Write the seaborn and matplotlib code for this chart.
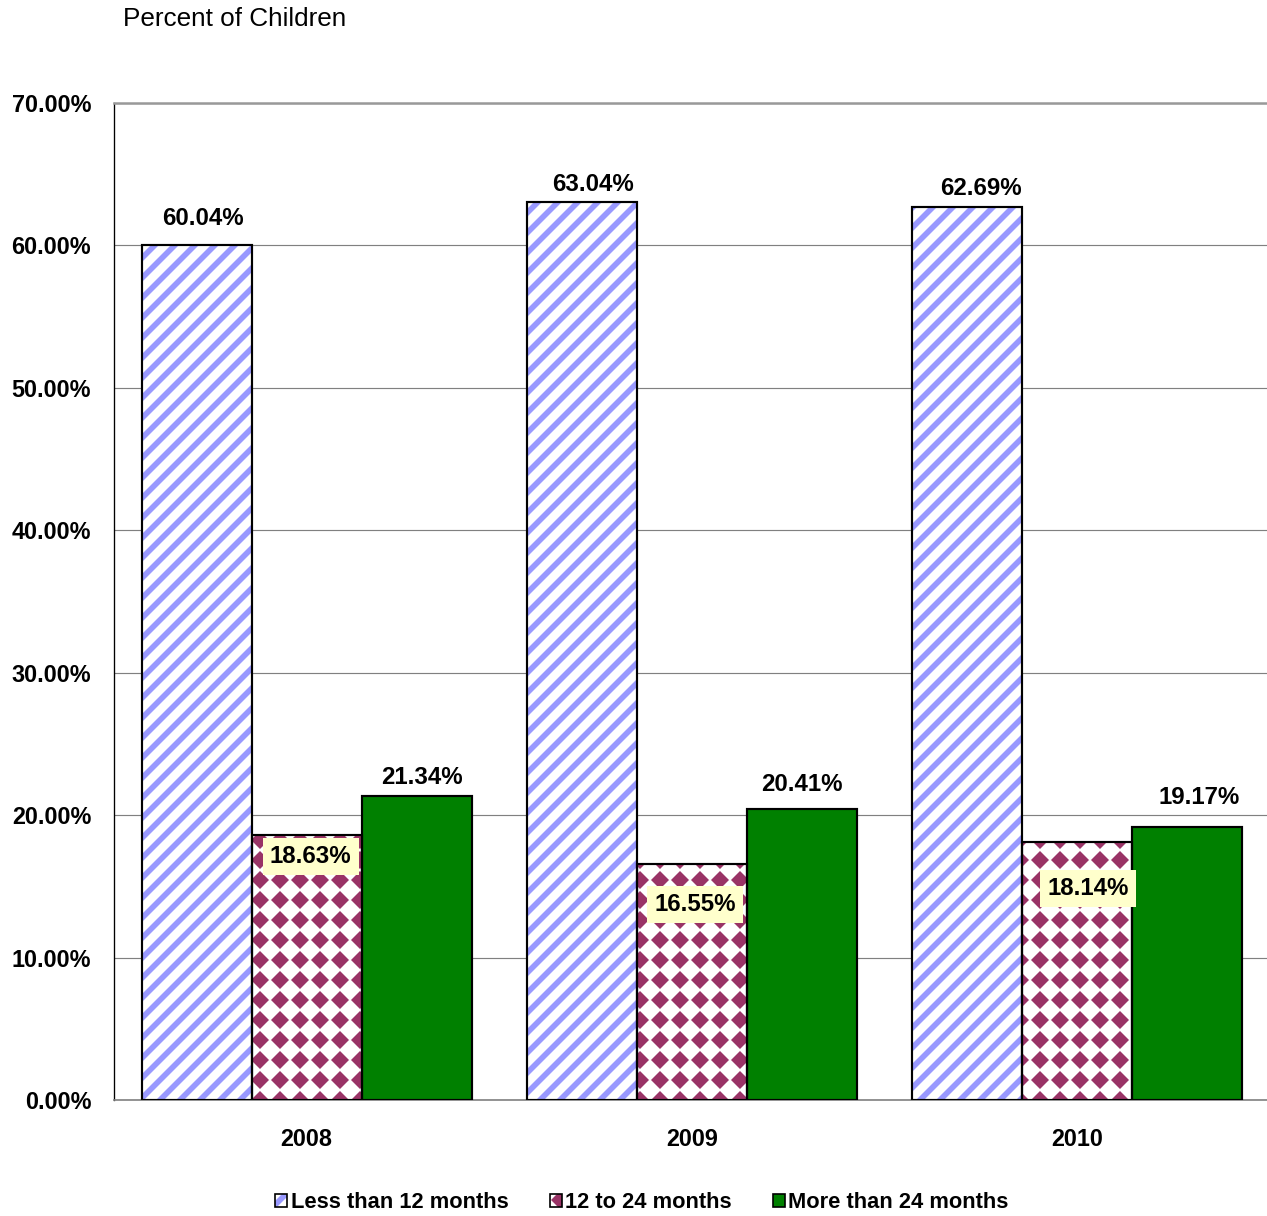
import numpy as np
import pandas as pd
import matplotlib
matplotlib.use("Agg")
import matplotlib.pyplot as plt
import matplotlib.hatch as mhatch
from matplotlib.path import Path
from matplotlib.patches import Patch, Rectangle
from matplotlib.ticker import FixedLocator, FuncFormatter
import seaborn as sns

# ---------------- data ----------------
years = ["2008", "2009", "2010"]
series = ["Less than 12 months", "12 to 24 months", "More than 24 months"]
less_12 = [60.04, 63.04, 62.69]
from_12_to_24 = [18.63, 16.55, 18.14]
more_24 = [21.34, 20.41, 19.17]
y_ticks = [0, 10, 20, 30, 40, 50, 60, 70]

# label offsets (pixels, relative to bar top centre)
top_off_s1 = [(6, 26), (11, 18), (14, 19)]
mid_off_s2 = [(4, -22), (3, -40), (11, -47)]
top_off_s3 = [(5, 19), (0, 25), (12, 29)]

# ---------------- custom diamond hatch ----------------
class DiamondGrid(mhatch.HatchPatternBase):
    def __init__(self, hatch, density):
        self.n = hatch.count('*') * int(density)
        self.num_vertices = 5 * (self.n + 1) ** 2 if self.n else 0

    def set_vertices_and_codes(self, vertices, codes):
        n = self.n
        r = 0.25 / n
        c = np.arange(n + 1) / n
        cx, cy = np.meshgrid(c, c)
        centers = np.stack([cx.ravel(), cy.ravel()], axis=1)
        shape = np.array([[0, -r], [r, 0], [0, r], [-r, 0], [0, -r]])
        verts = (shape[None, :, :] + centers[:, None, :]).reshape(-1, 2)
        vertices[:] = verts
        cd = np.full(5, Path.LINETO, dtype=Path.code_type)
        cd[0] = Path.MOVETO
        cd[-1] = Path.CLOSEPOLY
        codes[:] = np.tile(cd, len(centers))

mhatch._hatch_types[:] = [t for t in mhatch._hatch_types if t is not mhatch.Stars] + [DiamondGrid]

# ---------------- style ----------------
sns.set_style("white")
plt.rcParams['font.family'] = ['Liberation Sans', 'DejaVu Sans']
plt.rcParams['hatch.linewidth'] = 3.4
for key in ['text.color', 'axes.labelcolor', 'xtick.color', 'ytick.color']:
    plt.rcParams[key] = 'black'

DPI = 120
W, H = 1267, 1216
fig = plt.figure(figsize=(W / DPI, H / DPI), dpi=DPI)
ax = fig.add_axes([114 / W, 1 - 1100 / H, 1156 / W, 997 / H])

df = pd.DataFrame({
    "year": years * 3,
    "series": [series[0]] * 3 + [series[1]] * 3 + [series[2]] * 3,
    "pct": less_12 + from_12_to_24 + more_24,
})

face = {series[0]: "#FFFFFF", series[1]: "#FFFFFF", series[2]: "#008000"}
hatch_col = ["#9999FF", "#993366", None]
hatches = ["//", "*", None]

sns.barplot(data=df, x="year", y="pct", hue="series", hue_order=series,
            order=years, palette=face, saturation=1, width=0.856, gap=0,
            errorbar=None, legend=False, ax=ax, zorder=2)

edge_lw = 1.3
for k, cont in enumerate(ax.containers):
    for p in cont:
        if hatches[k]:
            p.set_hatch(hatches[k])
            p.set_edgecolor(hatch_col[k])
            p.set_linewidth(0)
        else:
            p.set_edgecolor("none")
            p.set_linewidth(0)
        ax.add_patch(Rectangle((p.get_x(), p.get_y()), p.get_width(), p.get_height(),
                               fill=False, edgecolor="black", linewidth=edge_lw, zorder=3))

# ---------------- labels ----------------
lab_kw = dict(ha="center", va="center", fontsize=14.4, fontweight="bold",
              color="black", textcoords="offset pixels", zorder=5)
offs = [top_off_s1, mid_off_s2, top_off_s3]
vals = [less_12, from_12_to_24, more_24]
for k, cont in enumerate(ax.containers):
    for j, p in enumerate(cont):
        xc = p.get_x() + p.get_width() / 2
        yt = p.get_y() + p.get_height()
        kw = dict(lab_kw)
        if k == 1:
            kw["bbox"] = dict(boxstyle="square,pad=0.3", facecolor="#FFFFCC", edgecolor="none")
        ax.annotate(f"{vals[k][j]:.2f}%", xy=(xc, yt), xytext=offs[k][j], **kw)

# ---------------- axes ----------------
ax.set_ylim(0, 70)
ax.set_xlim(-0.5, 2.5)
ax.yaxis.set_major_locator(FixedLocator(y_ticks))
ax.yaxis.set_major_formatter(FuncFormatter(lambda v, _: f"{v:.2f}%"))
ax.set_axisbelow(True)
ax.yaxis.grid(True, color="#808080", linewidth=0.7, zorder=0)
ax.xaxis.grid(False)
ax.set_xlabel("")
ax.set_ylabel("")

ax.tick_params(axis="y", which="major", direction="out", length=4.2, width=0.7,
               color="black", labelcolor="black", pad=9.5, labelsize=14)
for t in ax.get_yticklabels():
    t.set_fontweight("bold")
ax.tick_params(axis="x", which="major", length=0, pad=17, labelsize=14, labelcolor="black")
for t in ax.get_xticklabels():
    t.set_fontweight("bold")
ax.xaxis.set_minor_locator(FixedLocator([-0.5, 0.5, 1.5, 2.5]))
ax.tick_params(axis="x", which="minor", direction="out", length=4.8, width=0.7, color="#808080")

ax.spines["left"].set_color("black")
ax.spines["left"].set_linewidth(0.8)
ax.spines["bottom"].set_color("#808080")
ax.spines["bottom"].set_linewidth(1.0)
ax.spines["top"].set_color("#999999")
ax.spines["top"].set_linewidth(1.5)
ax.spines["right"].set_visible(False)

fig.text(123 / W, 1 - 19 / H, "Percent of Children", fontsize=15.7, ha="left",
         va="center", color="black")

# ---------------- legend ----------------
handles = []
for k in range(3):
    if hatches[k]:
        hp = Patch(facecolor="white", edgecolor=hatch_col[k], hatch=hatches[k], linewidth=0)
        op = Patch(fill=False, edgecolor="black", linewidth=1.0)
        handles.append((hp, op))
    else:
        handles.append(Patch(facecolor="#008000", edgecolor="black", linewidth=1.0))
leg = fig.legend(handles, series, loc="center", bbox_to_anchor=(642 / W, 1 - 1203 / H),
                 ncol=3, frameon=False, handlelength=0.55, handleheight=0.55,
                 handletextpad=0.15, columnspacing=1.9,
                 prop={"weight": "bold", "size": 13.1})
for t in leg.get_texts():
    t.set_color("black")

fig.savefig("out.png", dpi=DPI)
